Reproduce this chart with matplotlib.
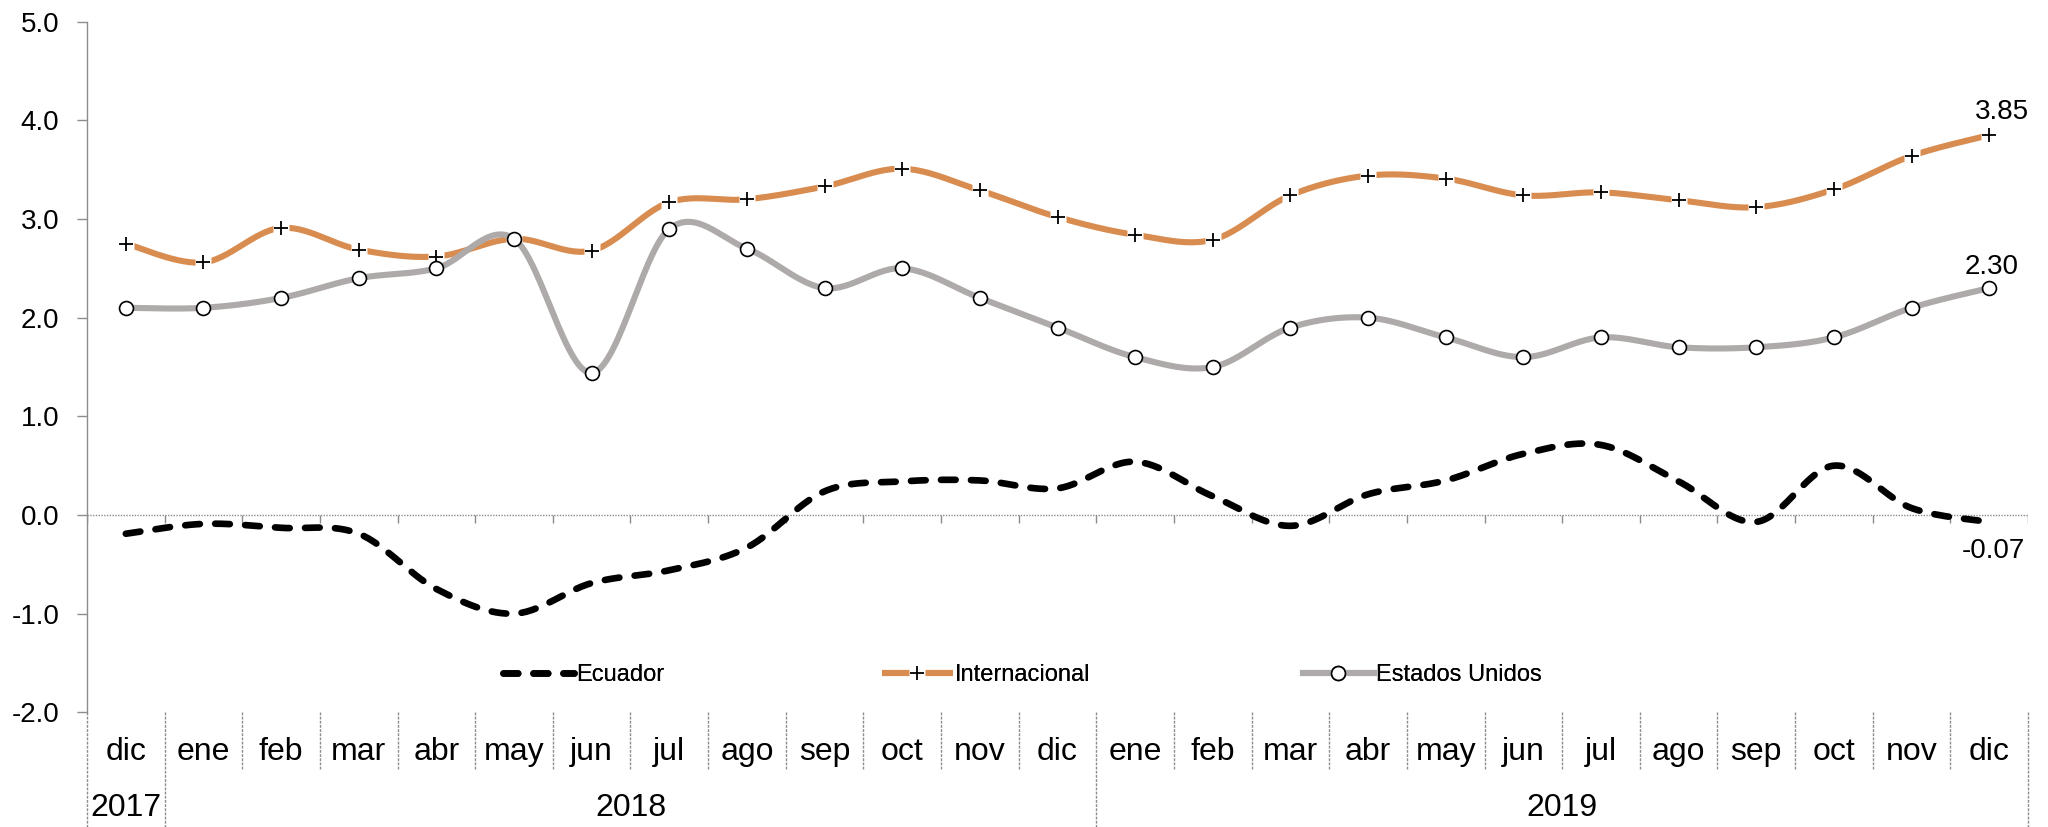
import numpy as np
import matplotlib
matplotlib.use("Agg")
import matplotlib.pyplot as plt
from matplotlib.font_manager import fontManager

names = {f.name for f in fontManager.ttflist}
FONT = "Liberation Sans Narrow" if "Liberation Sans Narrow" in names else "Liberation Sans"
plt.rcParams["font.family"] = [FONT, "DejaVu Sans"]

months = ["dic", "ene", "feb", "mar", "abr", "may", "jun", "jul", "ago", "sep", "oct", "nov",
          "dic", "ene", "feb", "mar", "abr", "may", "jun", "jul", "ago", "sep", "oct", "nov", "dic"]
years = ["2017", "2018", "2019"]
year_spans = [(0, 1), (1, 13), (13, 25)]

ecuador = [-0.19, -0.09, -0.13, -0.19, -0.75, -1.00, -0.69, -0.56, -0.33, 0.24, 0.34, 0.35, 0.27,
           0.54, 0.19, -0.11, 0.21, 0.35, 0.62, 0.71, 0.34, -0.07, 0.50, 0.07, -0.07]
internacional = [2.75, 2.56, 2.91, 2.69, 2.62, 2.80, 2.68, 3.17, 3.20, 3.33, 3.51, 3.29, 3.02,
                 2.84, 2.79, 3.24, 3.44, 3.41, 3.24, 3.27, 3.19, 3.12, 3.30, 3.64, 3.85]
estados_unidos = [2.10, 2.10, 2.20, 2.40, 2.50, 2.80, 1.44, 2.90, 2.70, 2.30, 2.50, 2.20, 1.90,
                  1.60, 1.50, 1.90, 2.00, 1.80, 1.60, 1.80, 1.70, 1.70, 1.80, 2.10, 2.30]
yticks = [-2.0, -1.0, 0.0, 1.0, 2.0, 3.0, 4.0, 5.0]

ORANGE = "#D98C50"
GRAY = "#ADAAA9"
GRID = "#8C8C8C"


def smooth(y, n=30):
    """Excel-like smoothed line (Catmull-Rom Bezier)."""
    P = np.column_stack([np.arange(len(y), dtype=float), np.asarray(y, float)])
    out = []
    m = len(P)
    for i in range(m - 1):
        p0 = P[i - 1] if i > 0 else P[i]
        p1, p2 = P[i], P[i + 1]
        p3 = P[i + 2] if i + 2 < m else P[i + 1]
        c1 = p1 + (p2 - p0) / 6.0
        c2 = p2 - (p3 - p1) / 6.0
        t = np.linspace(0, 1, n, endpoint=(i == m - 2))[:, None]
        seg = ((1 - t) ** 3) * p1 + 3 * ((1 - t) ** 2) * t * c1 + 3 * (1 - t) * t ** 2 * c2 + t ** 3 * p2
        out.append(seg)
    out = np.vstack(out)
    return out[:, 0], out[:, 1]


fig = plt.figure(figsize=(20.48, 8.27), dpi=100)
ax = fig.add_axes([87 / 2048, (827 - 712.3) / 827, (2028 - 87) / 2048, (712.3 - 21.7) / 827])
x = np.arange(len(months))

# zero line with boundary ticks
ax.axhline(0, color=GRID, lw=1.0, ls=(0, (1, 1)), zorder=1)
ax.vlines(np.arange(len(months) + 1) - 0.5, -0.085, 0, color=GRID, lw=1.0, zorder=1)

# Internacional
sx, sy = smooth(internacional)
l_int, = ax.plot(sx, sy, color=ORANGE, lw=4.4, solid_capstyle="butt", zorder=3)
m_int_bg, = ax.plot(x, internacional, ls="none", marker="s", ms=11.5, mfc="white", mec="none", zorder=4)
m_int, = ax.plot(x, internacional, ls="none", marker="+", ms=9.5, mew=1.3, color="black", zorder=5)

# Estados Unidos
sx, sy = smooth(estados_unidos)
l_eu, = ax.plot(sx, sy, color=GRAY, lw=4.4, zorder=6)
m_eu, = ax.plot(x, estados_unidos, ls="none", marker="o", ms=10, mfc="white", mec="black", mew=1.2, zorder=7)

# Ecuador
sx, sy = smooth(ecuador)
l_ec, = ax.plot(sx, sy, color="black", lw=4.8, dashes=(2.2, 2.3), dash_capstyle="round", zorder=8)

ax.set_xlim(-0.5, len(months) - 0.5)
ax.set_ylim(-2, 5)
ax.set_yticks(yticks)
ax.set_yticklabels([f"{v:.1f}" for v in yticks], fontsize=20)
ax.tick_params(axis="y", direction="out", length=7, width=1, color=GRID, pad=13)
ax.set_xticks([])
for s in ["top", "right", "bottom"]:
    ax.spines[s].set_visible(False)
ax.spines["left"].set_linestyle((0, (1, 1)))
ax.spines["left"].set_color(GRID)
ax.spines["left"].set_linewidth(1.0)
for t in ax.yaxis.get_ticklines():
    t.set_linestyle((0, (1, 1)))

# data labels
ax.annotate(f"{internacional[-1]:.2f}", (x[-1], internacional[-1]), xytext=(9, 17),
            textcoords="offset points", ha="center", va="center", fontsize=20)
ax.annotate(f"{estados_unidos[-1]:.2f}", (x[-1], estados_unidos[-1]), xytext=(2, 15),
            textcoords="offset points", ha="center", va="center", fontsize=20)
ax.annotate(f"{ecuador[-1]:.2f}", (x[-1], ecuador[-1]), xytext=(3, -21),
            textcoords="offset points", ha="center", va="center", fontsize=20)

# category table below axes
trans = ax.get_xaxis_transform()
ax_h = 712.3 - 21.7
y_month_bottom = -(770 - 712.3) / ax_h
y_fig_bottom = -(827 - 712.3) / ax_h
y_month_text = -(752 - 712.3) / ax_h
y_year_text = -(808 - 712.3) / ax_h
group_edges = {0, 1, 13, 25}
for b in range(len(months) + 1):
    y0 = y_fig_bottom if b in group_edges else y_month_bottom
    ax.plot([b - 0.5, b - 0.5], [0, y0], transform=trans, clip_on=False,
            color=GRID, lw=1.0, ls=(0, (2, 1)))
for i, m in enumerate(months):
    ax.text(i, y_month_text, m, transform=trans, ha="center", va="center", fontsize=23)
for yr, (a, b) in zip(years, year_spans):
    ax.text((a + b - 1) / 2, y_year_text, yr, transform=trans, ha="center", va="center", fontsize=23)

# legends (three separate entries)
entries = [
    (l_ec, "Ecuador", 503),
    ((l_int, m_int_bg, m_int), "Internacional", 882),
    ((l_eu, m_eu), "Estados Unidos", 1303),
]
y_leg = (827 - 675) / 827
for h, lab, px in entries:
    leg = fig.legend([h], [lab], loc="center left", bbox_to_anchor=(px / 2048, y_leg),
                     frameon=False, fontsize=17, handlelength=3.0, handletextpad=0.1,
                     borderpad=0, borderaxespad=0)
    fig.add_artist(leg)

fig.savefig("out.png", dpi=100, facecolor="white")
